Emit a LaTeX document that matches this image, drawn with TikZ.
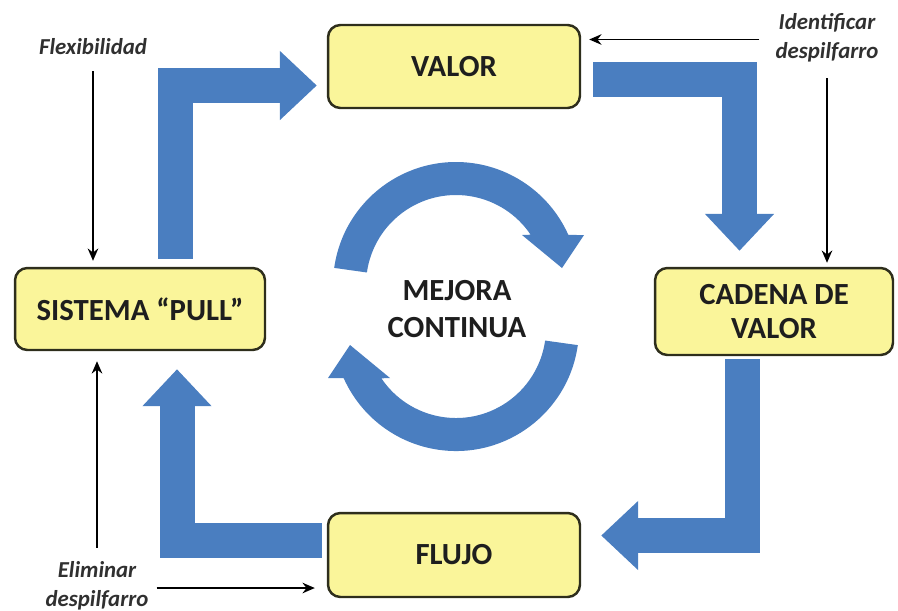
\documentclass[tikz,border=0pt]{standalone}
\usepackage{fontspec}
\setmainfont{Carlito}
\usepackage{xcolor}
\usetikzlibrary{arrows.meta,positioning,calc}
\definecolor{azul}{HTML}{4A7EC0}
\definecolor{amarillo}{HTML}{FAF59A}
\definecolor{borde}{HTML}{2E2E1C}
\definecolor{texto}{HTML}{1E1E1E}

% curved arrow of the centre, drawn around its own centre
\newcommand{\flechacurva}{%
  \fill[azul] (172:123) arc[start angle=172, end angle=24, radius=123]
    -- (128,50) -- (106,17) -- (66,50) -- (34:90)
    arc[start angle=34, end angle=172, radius=90] -- cycle;}

\begin{document}
\begin{tikzpicture}[
    x=0.02cm, y=-0.02cm,
    caja/.style={rectangle, draw=borde, fill=amarillo, line width=1.4pt, rounded corners=7pt, align=center, text=texto, font=\fontsize{17.5}{19}\selectfont\bfseries},
    etiqueta/.style={align=center, text=texto!92, font=\fontsize{13}{16.5}\selectfont\bfseries\itshape},
    flecha/.style={-{Stealth[length=7pt, width=6pt]}, line width=1pt, black},
    bloque/.style={azul, line width=0.7cm, line join=miter, -{Triangle[length=0.74cm, width=1.34cm]}}
]
    \useasboundingbox (0,0) rectangle (898,610);

    % The four steps
    \node[caja, minimum width=5.04cm, minimum height=1.66cm] (valor) at (454,66.5) {VALOR};
    \node[caja, minimum width=4.76cm, minimum height=1.74cm] (cadena) at (774,311.5) {CADENA DE\\VALOR};
    \node[caja, minimum width=5.04cm, minimum height=1.68cm] (flujo) at (454,555) {FLUJO};
    \node[caja, minimum width=5cm, minimum height=1.64cm] (sistema) at (140,309) {SISTEMA “PULL”};

    % Big blue arrows round the cycle
    \draw[bloque] ($(sistema.north)+(35,-8)$) |- ($(valor.west)+(-10,19)$);
    \draw[bloque] ($(valor.east)+(12,13)$) -| ($(cadena.north)+(-34.5,-16)$);
    \draw[bloque] ($(cadena.south)+(-31.5,3)$) |- ($(flujo.east)+(20,-19.5)$);
    \draw[bloque] ($(flujo.west)+(-5,-14.5)$) -| ($(sistema.south)+(37,18)$);

    % Centre: continuous improvement
    \begin{scope}[shift={(456,285)}, yscale=-1]
        \flechacurva
    \end{scope}
    \begin{scope}[shift={(456,328)}, yscale=-1, rotate=180]
        \flechacurva
    \end{scope}
    \node[align=center, text=texto, font=\fontsize{17.5}{21}\selectfont\bfseries] (mejora) at (457,309) {MEJORA\\CONTINUA};

    % Side notes
    \node[etiqueta] (flex) at (93,47) {Flexibilidad};
    \node[etiqueta] (ident) at (827,37.5) {Identificar\\despilfarro};
    \node[etiqueta] (elim) at (97,586) {Eliminar\\despilfarro};

    \draw[flecha] ($(flex.south)+(0,10)$) -- ($(flex.south |- sistema.north)+(0,-6)$);
    \draw[flecha] ($(ident.west)+(-10,2)$) -- ($(valor.east |- ident.west)+(8,2)$);
    \draw[flecha] ($(ident.south)+(0,10)$) -- ($(ident.south |- cadena.north)+(0,-4)$);
    \draw[flecha] ($(elim.north)+(0,-8)$) -- ($(elim.north |- sistema.south)+(0,10)$);
    \draw[flecha] ($(elim.east)+(2,2)$) -- ($(flujo.west |- elim.east)+(-12,2)$);
\end{tikzpicture}
\end{document}
